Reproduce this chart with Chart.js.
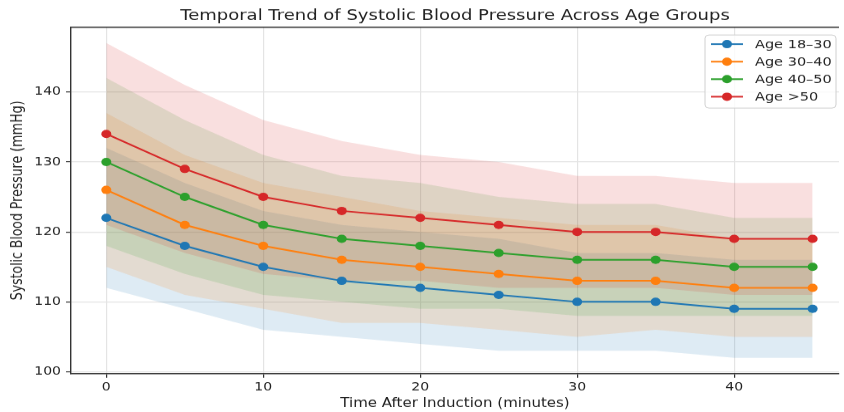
<!DOCTYPE html>
<html>
<head>
<meta charset="utf-8">
<script src="https://cdn.jsdelivr.net/npm/chart.js@4.4.1/dist/chart.umd.min.js"></script>
<style>
  body { margin: 0; background: #fff; }
</style>
</head>
<body>
<canvas id="myChart" width="844" height="496" style="width:844px;height:412px;display:block"></canvas>
<script>
// data
const times = [0, 5, 10, 15, 20, 25, 30, 35, 40, 45];
const groups = ['Age 18–30', 'Age 30–40', 'Age 40–50', 'Age >50'];

const bp18 = [122, 118, 115, 113, 112, 111, 110, 110, 109, 109];
const bp30 = [126, 121, 118, 116, 115, 114, 113, 113, 112, 112];
const bp40 = [130, 125, 121, 119, 118, 117, 116, 116, 115, 115];
const bp50 = [134, 129, 125, 123, 122, 121, 120, 120, 119, 119];

// upper / lower edge of the shaded bands
const hi18 = [132, 127, 123, 121, 120, 119, 117, 117, 116, 116];
const lo18 = [112, 109, 106, 105, 104, 103, 103, 103, 102, 102];
const hi30 = [137, 131, 127, 125, 123, 122, 121, 121, 119, 119];
const lo30 = [115, 111, 109, 107, 107, 106, 105, 106, 105, 105];
const hi40 = [142, 136, 131, 128, 127, 125, 124, 124, 122, 122];
const lo40 = [118, 114, 111, 110, 109, 109, 108, 108, 108, 108];
const hi50 = [147, 141, 136, 133, 131, 130, 128, 128, 127, 127];
const lo50 = [121, 117, 114, 113, 113, 112, 112, 112, 111, 111];

const xTicks = [0, 10, 20, 30, 40];
const yTicks = [100, 110, 120, 130, 140];

const colors = ['#1f77b4', '#ff7f0e', '#2ca02c', '#d62728'];
const font = 'DejaVu Sans';

function pts(arr) {
    return arr.map((v, i) => ({ x: times[i], y: v }));
}

function fade(hex, a) {
    const n = parseInt(hex.slice(1), 16);
    return 'rgba(' + (n >> 16) + ',' + ((n >> 8) & 255) + ',' + (n & 255) + ',' + a + ')';
}

const means = [bp18, bp30, bp40, bp50];
const highs = [hi18, hi30, hi40, hi50];
const lows = [lo18, lo30, lo40, lo50];

let datasets = [];
means.forEach((m, k) => {
    datasets.push({
        label: groups[k],
        data: pts(m),
        borderColor: colors[k],
        backgroundColor: colors[k],
        borderWidth: 2,
        pointRadius: 5,
        pointHoverRadius: 5,
        pointBorderWidth: 0,
        tension: 0,
        fill: false,
        order: 3 - k
    });
});
means.forEach((m, k) => {
    const lowIndex = datasets.length;
    datasets.push({
        label: 'low',
        data: pts(lows[k]),
        borderColor: 'transparent',
        borderWidth: 0,
        pointRadius: 0,
        fill: false,
        order: 20
    });
    datasets.push({
        label: 'high',
        data: pts(highs[k]),
        borderColor: 'transparent',
        borderWidth: 0,
        pointRadius: 0,
        backgroundColor: fade(colors[k], 0.15),
        fill: lowIndex,
        order: 13 - k
    });
});

// legend box + top spine
const frameAndLegend = {
    id: 'frameAndLegend',
    afterDatasetsDraw(chart) {
        const ctx = chart.ctx;
        const area = chart.chartArea;
        ctx.save();
        ctx.strokeStyle = '#333';
        ctx.lineWidth = 1.4;
        ctx.beginPath();
        ctx.moveTo(area.left, area.top);
        ctx.lineTo(area.right, area.top);
        ctx.stroke();

        const x0 = area.right - 134, y0 = area.top + 9.3;
        ctx.fillStyle = 'rgba(255,255,255,0.8)';
        ctx.strokeStyle = '#d0d0d0';
        ctx.lineWidth = 1;
        ctx.beginPath();
        ctx.roundRect(x0, y0, 131, 88, 4);
        ctx.fill();
        ctx.stroke();

        ctx.font = '14.5px "' + font + '"';
        ctx.textBaseline = 'middle';
        groups.forEach((g, k) => {
            const y = y0 + 11 + k * 21.1;
            ctx.strokeStyle = colors[k];
            ctx.lineWidth = 2;
            ctx.beginPath();
            ctx.moveTo(x0 + 6, y);
            ctx.lineTo(x0 + 38, y);
            ctx.stroke();
            ctx.fillStyle = colors[k];
            ctx.beginPath();
            ctx.arc(x0 + 22, y, 5, 0, Math.PI * 2);
            ctx.fill();
            ctx.fillStyle = '#222';
            ctx.fillText(g, x0 + 50, y + 1);
        });
        ctx.restore();
    }
};

let ctx = document.getElementById('myChart').getContext('2d');
let bpChart = new Chart(ctx, {
    type: 'line',
    data: { datasets: datasets },
    plugins: [frameAndLegend],
    options: {
        responsive: false,
        devicePixelRatio: 1,
        animation: false,
        layout: { padding: 0 },
        plugins: {
            legend: { display: false },
            tooltip: { enabled: false },
            title: {
                display: true,
                fullSize: false,
                text: 'Temporal Trend of Systolic Blood Pressure Across Age Groups',
                color: '#222',
                font: { family: font, size: 18, weight: 'normal' },
                padding: { top: 8.5, bottom: 2.7 }
            }
        },
        scales: {
            x: {
                type: 'linear',
                min: -2.25,
                max: 46.68,
                afterBuildTicks: axis => { axis.ticks = xTicks.map(v => ({ value: v })); },
                afterFit: axis => { axis.height = 46.3; },
                grid: { color: '#e4e4e4', lineWidth: 1.2, tickLength: 5, tickColor: '#333' },
                border: { color: '#333', width: 1.4 },
                ticks: { color: '#222', font: { family: font, size: 14 }, padding: 3, maxRotation: 0 },
                title: {
                    display: true,
                    text: 'Time After Induction (minutes)',
                    color: '#222',
                    font: { family: font, size: 15 },
                    padding: { top: 0, bottom: 1 }
                }
            },
            y: {
                type: 'linear',
                min: 99.75,
                max: 149.25,
                afterBuildTicks: axis => { axis.ticks = yTicks.map(v => ({ value: v })); },
                afterFit: axis => { axis.width = 71; },
                grid: { color: '#e4e4e4', lineWidth: 1.2, tickLength: 5, tickColor: '#333' },
                border: { color: '#333', width: 1.4 },
                ticks: { color: '#222', font: { family: font, size: 14 }, padding: 5 },
                title: {
                    display: true,
                    text: 'Systolic Blood Pressure (mmHg)',
                    color: '#222',
                    font: { family: font, size: 15 },
                    padding: { top: 9, bottom: 0 }
                }
            }
        }
    }
});
</script>
</body>
</html>
